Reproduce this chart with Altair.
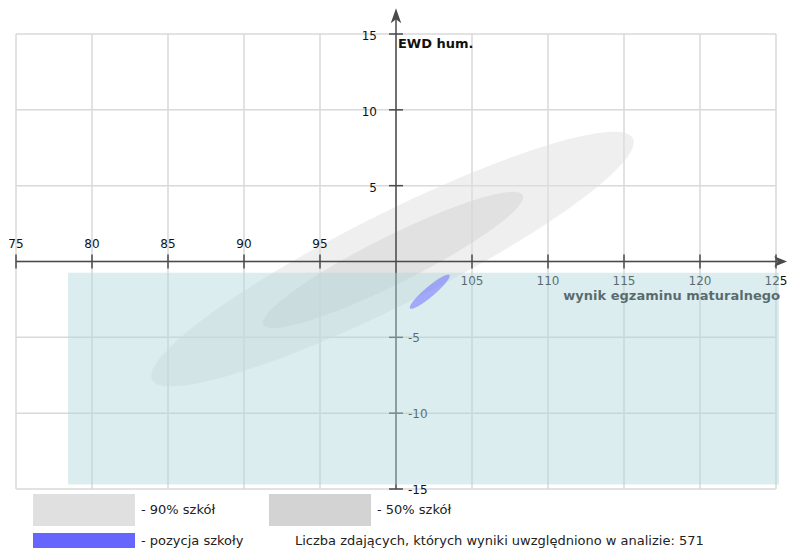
import altair as alt
import numpy as np
import pandas as pd

# ---------------- data ----------------
x_ticks = [75, 80, 85, 90, 95, 100, 105, 110, 115, 120, 125]
y_ticks = [-15, -10, -5, 0, 5, 10, 15]
x_labels_left = ["75", "80", "85", "90", "95"]
x_labels_left_v = [75, 80, 85, 90, 95]
x_labels_right = ["105", "110", "115", "120", "125"]
x_labels_right_v = [105, 110, 115, 120, 125]
y_labels_pos = ["5", "10", "15"]
y_labels_pos_v = [5, 10, 15]
y_labels_neg = ["-5", "-10", "-15"]
y_labels_neg_v = [-5, -10, -15]

# ellipses: centre x, centre y, semi-major, semi-minor, angle (deg)
ell_names = ["90% szkół", "50% szkół", "pozycja szkoły"]
ell_cx = [99.77, 99.8, 102.22]
ell_cy = [0.16, 0.1, -1.99]
ell_a = [17.7, 9.54, 1.70]
ell_b = [3.0, 1.56, 0.33]
ell_ang = [26.7, 26.6, 40.3]

# shaded rectangle (x range, y range)
band_x = [78.42, 125.2]
band_y = [-0.74, -14.7]

title_text = "Dane za okres 2010-2011"
y_title = "EWD hum."
x_title = "wynik egzaminu maturalnego"
legend_texts = ["- 90% szkół", "- 50% szkół", "- pozycja szkoły"]
note_text = "Liczba zdających, których wyniki uwzględniono w analizie: 571"

# ---------------- helpers ----------------
W, H = 760, 455
FONT = "DejaVu Sans"
xs = alt.Scale(domain=[75, 125], nice=False, zero=False)
ys = alt.Scale(domain=[-15, 15], nice=False, zero=False)


def ellipse_df(cx, cy, a, b, ang, n=240):
    t = np.deg2rad(ang)
    c, s = np.cos(t), np.sin(t)
    A = s * s / a**2 + c * c / b**2
    umax = np.sqrt(a * a * c * c + b * b * s * s)
    u = umax * np.cos(np.linspace(np.pi, 0, n))
    B = 2 * u * (c * s / a**2 - s * c / b**2)
    C = u * u * (c * c / a**2 + s * s / b**2) - 1
    disc = np.clip(B * B - 4 * A * C, 0, None)
    v1 = (-B + np.sqrt(disc)) / (2 * A)
    v2 = (-B - np.sqrt(disc)) / (2 * A)
    return pd.DataFrame({"x": cx + u, "y": cy + v1, "y2": cy + v2})


one = pd.DataFrame({"k": [0]})

def X(f):
    return alt.X(f, type="quantitative", scale=xs, axis=None)

def Y(f):
    return alt.Y(f, type="quantitative", scale=ys, axis=None)

GRID = "#d9d9d9"
grid_v = alt.Chart(pd.DataFrame({"x": x_ticks})).mark_rule(color=GRID, strokeWidth=1.5).encode(
    x=X("x"), y=alt.value(0), y2=alt.value(H))
grid_h = alt.Chart(pd.DataFrame({"y": y_ticks})).mark_rule(color=GRID, strokeWidth=1.5).encode(
    y=Y("y"), x=alt.value(0), x2=alt.value(W))


def ell_layer(i, color, op):
    df = ellipse_df(ell_cx[i], ell_cy[i], ell_a[i], ell_b[i], ell_ang[i])
    return alt.Chart(df).mark_area(orient="vertical", color=color, opacity=op).encode(
        x=X("x"), y=Y("y"), y2="y2:Q")


e90 = ell_layer(0, "#e0e0e0", 0.5)
e50 = ell_layer(1, "#d3d3d3", 0.5)
eblue = ell_layer(2, "#6666ff", 0.5)

AX = "#4a4a4a"
xaxis = alt.Chart(pd.DataFrame({"x": [75], "x2": [125.1], "y": [0]})).mark_rule(color=AX, strokeWidth=1.5).encode(
    x=X("x"), x2="x2:Q", y=Y("y"))
yaxis = alt.Chart(pd.DataFrame({"y": [-15], "y2": [16.0], "x": [100]})).mark_rule(color=AX, strokeWidth=1.5).encode(
    y=Y("y"), y2="y2:Q", x=X("x"))

xt = [v for v in x_ticks if v != 100]
yt = [v for v in y_ticks if v != 0]
xticks = alt.Chart(pd.DataFrame({"x": xt, "lo": [-0.46] * len(xt), "hi": [0.46] * len(xt)})).mark_rule(
    color=AX, strokeWidth=1.5).encode(x=X("x"), y=Y("lo"), y2="hi:Q")
yticks = alt.Chart(pd.DataFrame({"y": yt, "lo": [99.54] * len(yt), "hi": [100.46] * len(yt)})).mark_rule(
    color=AX, strokeWidth=1.5).encode(y=Y("y"), x=X("lo"), x2="hi:Q")

arrow_r = alt.Chart(pd.DataFrame({"x": [125.30], "y": [0]})).mark_point(
    shape="M1,0 L-1,-0.8 L-0.45,0 L-1,0.8 Z", size=169, filled=True, color=AX, opacity=1).encode(
    x=X("x"), y=Y("y"))
arrow_u = alt.Chart(pd.DataFrame({"x": [100], "y": [16.2]})).mark_point(
    shape="M0,-1 L-0.7,1 L0,0.45 L0.7,1 Z", size=225, filled=True, color=AX, opacity=1).encode(
    x=X("x"), y=Y("y"))

TXT = "#111"
lab_l = alt.Chart(pd.DataFrame({"x": x_labels_left_v, "y": [0.89] * 5, "t": x_labels_left})).mark_text(
    font=FONT, fontSize=12, color=TXT, align="center", baseline="alphabetic").encode(
    x=X("x"), y=Y("y"), text="t:N")
lab_r = alt.Chart(pd.DataFrame({"x": x_labels_right_v, "y": [-1.58] * 5, "t": x_labels_right})).mark_text(
    font=FONT, fontSize=12, color=TXT, align="center", baseline="alphabetic").encode(
    x=X("x"), y=Y("y"), text="t:N")
lab_yp = alt.Chart(pd.DataFrame({"y": y_labels_pos_v, "x": [98.75] * 3, "t": y_labels_pos})).mark_text(
    font=FONT, fontSize=12, color=TXT, align="right", baseline="middle", dy=2).encode(
    x=X("x"), y=Y("y"), text="t:N")
lab_yn = alt.Chart(pd.DataFrame({"y": y_labels_neg_v, "x": [100.79] * 3, "t": y_labels_neg})).mark_text(
    font=FONT, fontSize=12, color=TXT, align="left", baseline="middle", dy=1).encode(
    x=X("x"), y=Y("y"), text="t:N")

ytitle = alt.Chart(pd.DataFrame({"x": [100.13], "y": [14.07], "t": [y_title]})).mark_text(
    font=FONT, fontSize=13, fontWeight="bold", color=TXT, align="left", baseline="alphabetic").encode(
    x=X("x"), y=Y("y"), text="t:N")
xtitle = alt.Chart(pd.DataFrame({"x": [125.26], "y": [-2.52], "t": [x_title]})).mark_text(
    font=FONT, fontSize=13, fontWeight="bold", color=TXT, align="right", baseline="alphabetic").encode(
    x=X("x"), y=Y("y"), text="t:N")
title = alt.Chart(one).mark_text(
    font=FONT, fontSize=13, fontWeight="bold", color=TXT, align="center", baseline="alphabetic").encode(
    x=alt.value(358), y=alt.value(-30.5), text=alt.value(title_text))

band = alt.Chart(pd.DataFrame({"x": [band_x[0]], "x2": [band_x[1]], "y": [band_y[0]], "y2": [band_y[1]]})).mark_rect(
    color="#b1d7de", opacity=0.45).encode(x=X("x"), x2="x2:Q", y=Y("y"), y2="y2:Q")


# legend
def box(x0, x1, y0, y1, color):
    return alt.Chart(one).mark_rect(color=color).encode(
        x=alt.value(x0), x2=alt.value(x1), y=alt.value(y0), y2=alt.value(y1))


def txt(x0, y0, s):
    return alt.Chart(one).mark_text(font=FONT, fontSize=13, color="#222", align="left", baseline="middle").encode(
        x=alt.value(x0), y=alt.value(y0), text=alt.value(s))


legend = [
    box(17, 119, 460, 492, "#e0e0e0"), txt(125, 476, legend_texts[0]),
    box(253, 355, 460, 492, "#d3d3d3"), txt(361, 476, legend_texts[1]),
    box(17, 119, 499, 520, "#6666ff"), txt(125, 507, legend_texts[2]),
    txt(279, 507, note_text),
]

chart = alt.layer(
    grid_v, grid_h, e90, e50, xaxis, yaxis, xticks, yticks, arrow_r, arrow_u,
    lab_l, lab_r, lab_yp, lab_yn, ytitle, xtitle, title, band, eblue, *legend
).properties(
    width=W, height=H,
    autosize=alt.AutoSizeParams(type="none"),
    padding={"left": 8, "top": 26, "right": 12, "bottom": 59},
).configure_view(stroke=None)

chart.save("out.html", embed_options={"renderer": "svg", "actions": False})
